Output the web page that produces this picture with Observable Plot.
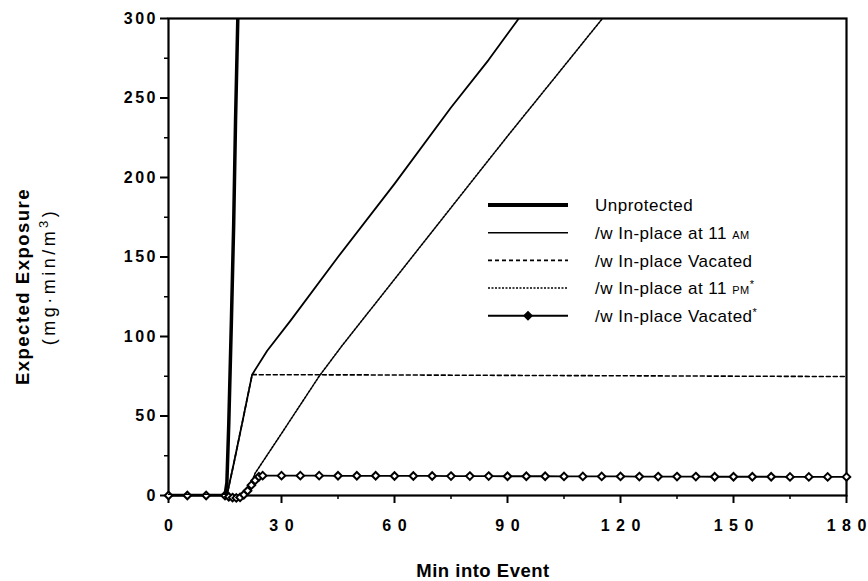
<!DOCTYPE html>
<html><head><meta charset="utf-8">
<script src="https://cdn.jsdelivr.net/npm/d3@7"></script>
<script src="https://cdn.jsdelivr.net/npm/@observablehq/plot@0.6"></script>
<style>
body{margin:0;background:#fff;}
#chart{position:relative;width:868px;height:581px;}
</style></head><body><div id="chart"></div>
<script>
// ---- data ----
const xTicks = [0, 30, 60, 90, 120, 150, 180];
const xMinor = [15, 45, 75, 105, 135, 165];
const yTicks = [0, 50, 100, 150, 200, 250, 300];
const yMinor = [25, 75, 125, 175, 225, 275];

const unprotMin = [0, 15, 15.5, 16, 16.7, 17.3, 17.8, 18.4];
const unprotExp = [0, 0, 8, 45, 110, 170, 236, 300];

const am11Min = [0, 15.5, 17.5, 19.6, 22.2, 26.2, 32.4, 45, 60, 75, 85, 93];
const am11Exp = [0, 0, 22, 46, 76, 91, 110, 150, 196, 244, 274, 300];

const vacMin = [0, 15.5, 17.5, 19.6, 22.2, 60, 120, 180];
const vacExp = [0, 0, 22, 46, 76, 75.8, 75.3, 74.8];

const pm11Min = [0, 19, 20, 21, 22, 23, 30, 40, 46, 60, 75, 90, 105, 115.2];
const pm11Exp = [0, 0, 1.5, 4, 8, 14, 39, 75, 94, 136, 181, 226, 270, 300];

const vacStarMin = [0, 5, 10, 15, 16, 17, 18, 19, 20, 21, 22, 23, 24, 25, 30, 35, 40, 45, 50, 55, 60, 65, 70, 75, 80, 85, 90, 95, 100, 105, 110, 115, 120, 125, 130, 135, 140, 145, 150, 155, 160, 165, 170, 175, 180];
const vacStarExp = [0, 0, 0, 0, -0.8, -1.3, -1.5, -1.2, 0.5, 3, 6.5, 9.5, 11.8, 12.5, 12.5, 12.5, 12.5, 12.4, 12.4, 12.4, 12.3, 12.3, 12.3, 12.2, 12.2, 12.2, 12.1, 12.1, 12.1, 12, 12, 12, 12, 11.9, 11.9, 11.9, 11.9, 11.8, 11.8, 11.8, 11.8, 11.7, 11.7, 11.7, 11.7];

const seriesNames = ["Unprotected", "/w In-place at 11 AM", "/w In-place Vacated", "/w In-place at 11 PM*", "/w In-place Vacated*"];

const toRows = (xs, ys) => xs.map((x, i) => ({x, y: ys[i]}));
const unprot = toRows(unprotMin, unprotExp);
const am11 = toRows(am11Min, am11Exp);
const vac = toRows(vacMin, vacExp);
const pm11 = toRows(pm11Min, pm11Exp);
const vacStar = toRows(vacStarMin, vacStarExp);

const FONT = "Liberation Sans, Arial, Helvetica, sans-serif";

const plot = Plot.plot({
  width: 868, height: 581,
  marginLeft: 168, marginRight: 22, marginTop: 18, marginBottom: 86,
  style: {fontFamily: FONT, background: "#fff", color: "#000", overflow: "visible"},
  x: {domain: [0, 180]},
  y: {domain: [0, 300]},
  marks: [
    Plot.axisY(yMinor, {tickSize: 4, tickFormat: () => "", label: null, strokeWidth: 1.5}),
    Plot.axisY(yTicks, {tickSize: 8, tickPadding: 5, fontSize: 16, fontWeight: "bold", label: null, strokeWidth: 2}),
    Plot.axisX(xMinor, {tickSize: 4, tickFormat: () => "", label: null, strokeWidth: 1.5}),
    Plot.axisX(xTicks, {tickSize: 8, tickPadding: 16, fontSize: 16, fontWeight: "bold", label: null, strokeWidth: 2}),
    Plot.frame({stroke: "#000", strokeWidth: 2.2}),
    Plot.line(pm11, {x: "x", y: "y", stroke: "#000", strokeWidth: 1.6, strokeDasharray: "2,1.5", clip: true}),
    Plot.line(vac, {x: "x", y: "y", stroke: "#000", strokeWidth: 1.6, strokeDasharray: "4,3", clip: true}),
    Plot.line(am11, {x: "x", y: "y", stroke: "#000", strokeWidth: 1.8, clip: true}),
    Plot.line(vacStar, {x: "x", y: "y", stroke: "#000", strokeWidth: 1.8}),
    Plot.dot(vacStar, {x: "x", y: "y", symbol: "diamond2", r: 3.4, fill: "#fff", stroke: "#000", strokeWidth: 2}),
    Plot.line(unprot, {x: "x", y: "y", stroke: "#000", strokeWidth: 3.5, clip: true})
  ]
});

const svg = d3.select(plot);
// spaced tick labels: letter spacing on all but the last character (no trailing gap)
function spaceOut(sel, ls) {
  sel.each(function () {
    const t = d3.select(this);
    const s = t.text();
    if (s.length < 2) return;
    t.text("");
    t.append("tspan").attr("letter-spacing", ls + "px").text(s.slice(0, -1));
    t.append("tspan").text(s.slice(-1));
  });
}
spaceOut(svg.selectAll('[aria-label="x-axis tick label"] text'), 6.5);
spaceOut(svg.selectAll('[aria-label="y-axis tick label"] text'), 2.5);

const xs = plot.scale("x"), ys = plot.scale("y");
const xMid = (xs.range[0] + xs.range[1]) / 2;
const yMid = (ys.range[0] + ys.range[1]) / 2;

// x axis title
svg.append("text").attr("x", xMid - 24).attr("y", 577)
  .attr("text-anchor", "middle").attr("font-family", FONT).attr("font-size", 18.5).attr("font-weight", "bold")
  .attr("letter-spacing", "0.5px")
  .text("Min into Event");

// y axis title (two lines)
const yt = svg.append("g").attr("transform", `translate(29,${yMid + 30}) rotate(-90)`);
yt.append("text").attr("text-anchor", "middle").attr("font-family", FONT).attr("font-size", 18.5).attr("font-weight", "bold")
  .attr("letter-spacing", "1.5px")
  .text("Expected Exposure");
const yt2 = svg.append("g").attr("transform", `translate(55,${yMid + 20}) rotate(-90)`);
const t2 = yt2.append("text").attr("text-anchor", "middle").attr("font-family", FONT).attr("font-size", 18)
  .attr("letter-spacing", "3.5px");
t2.append("tspan").text("(mg\u00b7min/m");
t2.append("tspan").attr("baseline-shift", "super").attr("font-size", 13).text("3");
t2.append("tspan").text(")");

// legend
const lg = svg.append("g").attr("font-family", FONT).attr("font-size", 17).attr("text-anchor", "start");
const rowY = i => 205 + i * 27.7;
const styles = [
  {w: 4, dash: null},
  {w: 1.6, dash: null},
  {w: 1.6, dash: "4,3"},
  {w: 1.5, dash: "2,1.5"},
  {w: 2, dash: null, marker: true}
];
seriesNames.forEach((name, i) => {
  const s = styles[i];
  const l = lg.append("line").attr("x1", 488).attr("x2", 568).attr("y1", rowY(i)).attr("y2", rowY(i))
    .attr("stroke", "#000").attr("stroke-width", s.w);
  if (s.dash) l.attr("stroke-dasharray", s.dash);
  if (s.marker) lg.append("path").attr("d", d3.symbol(d3.symbolDiamond2, 40)())
    .attr("transform", `translate(528,${rowY(i)})`).attr("fill", "#000").attr("stroke", "#000").attr("stroke-width", 1.5);
  const t = lg.append("text").attr("x", 595).attr("y", rowY(i)).attr("dy", "0.36em").attr("letter-spacing", "0.5px");
  const m = name.match(/^(.*?)(AM|PM)?(\*)?$/);
  t.append("tspan").text(m[1]);
  if (m[2]) t.append("tspan").attr("font-size", 11).text(m[2]);
  if (m[3]) t.append("tspan").attr("baseline-shift", "super").attr("font-size", 11).text("*");
});

document.getElementById("chart").appendChild(plot);
</script></body></html>
